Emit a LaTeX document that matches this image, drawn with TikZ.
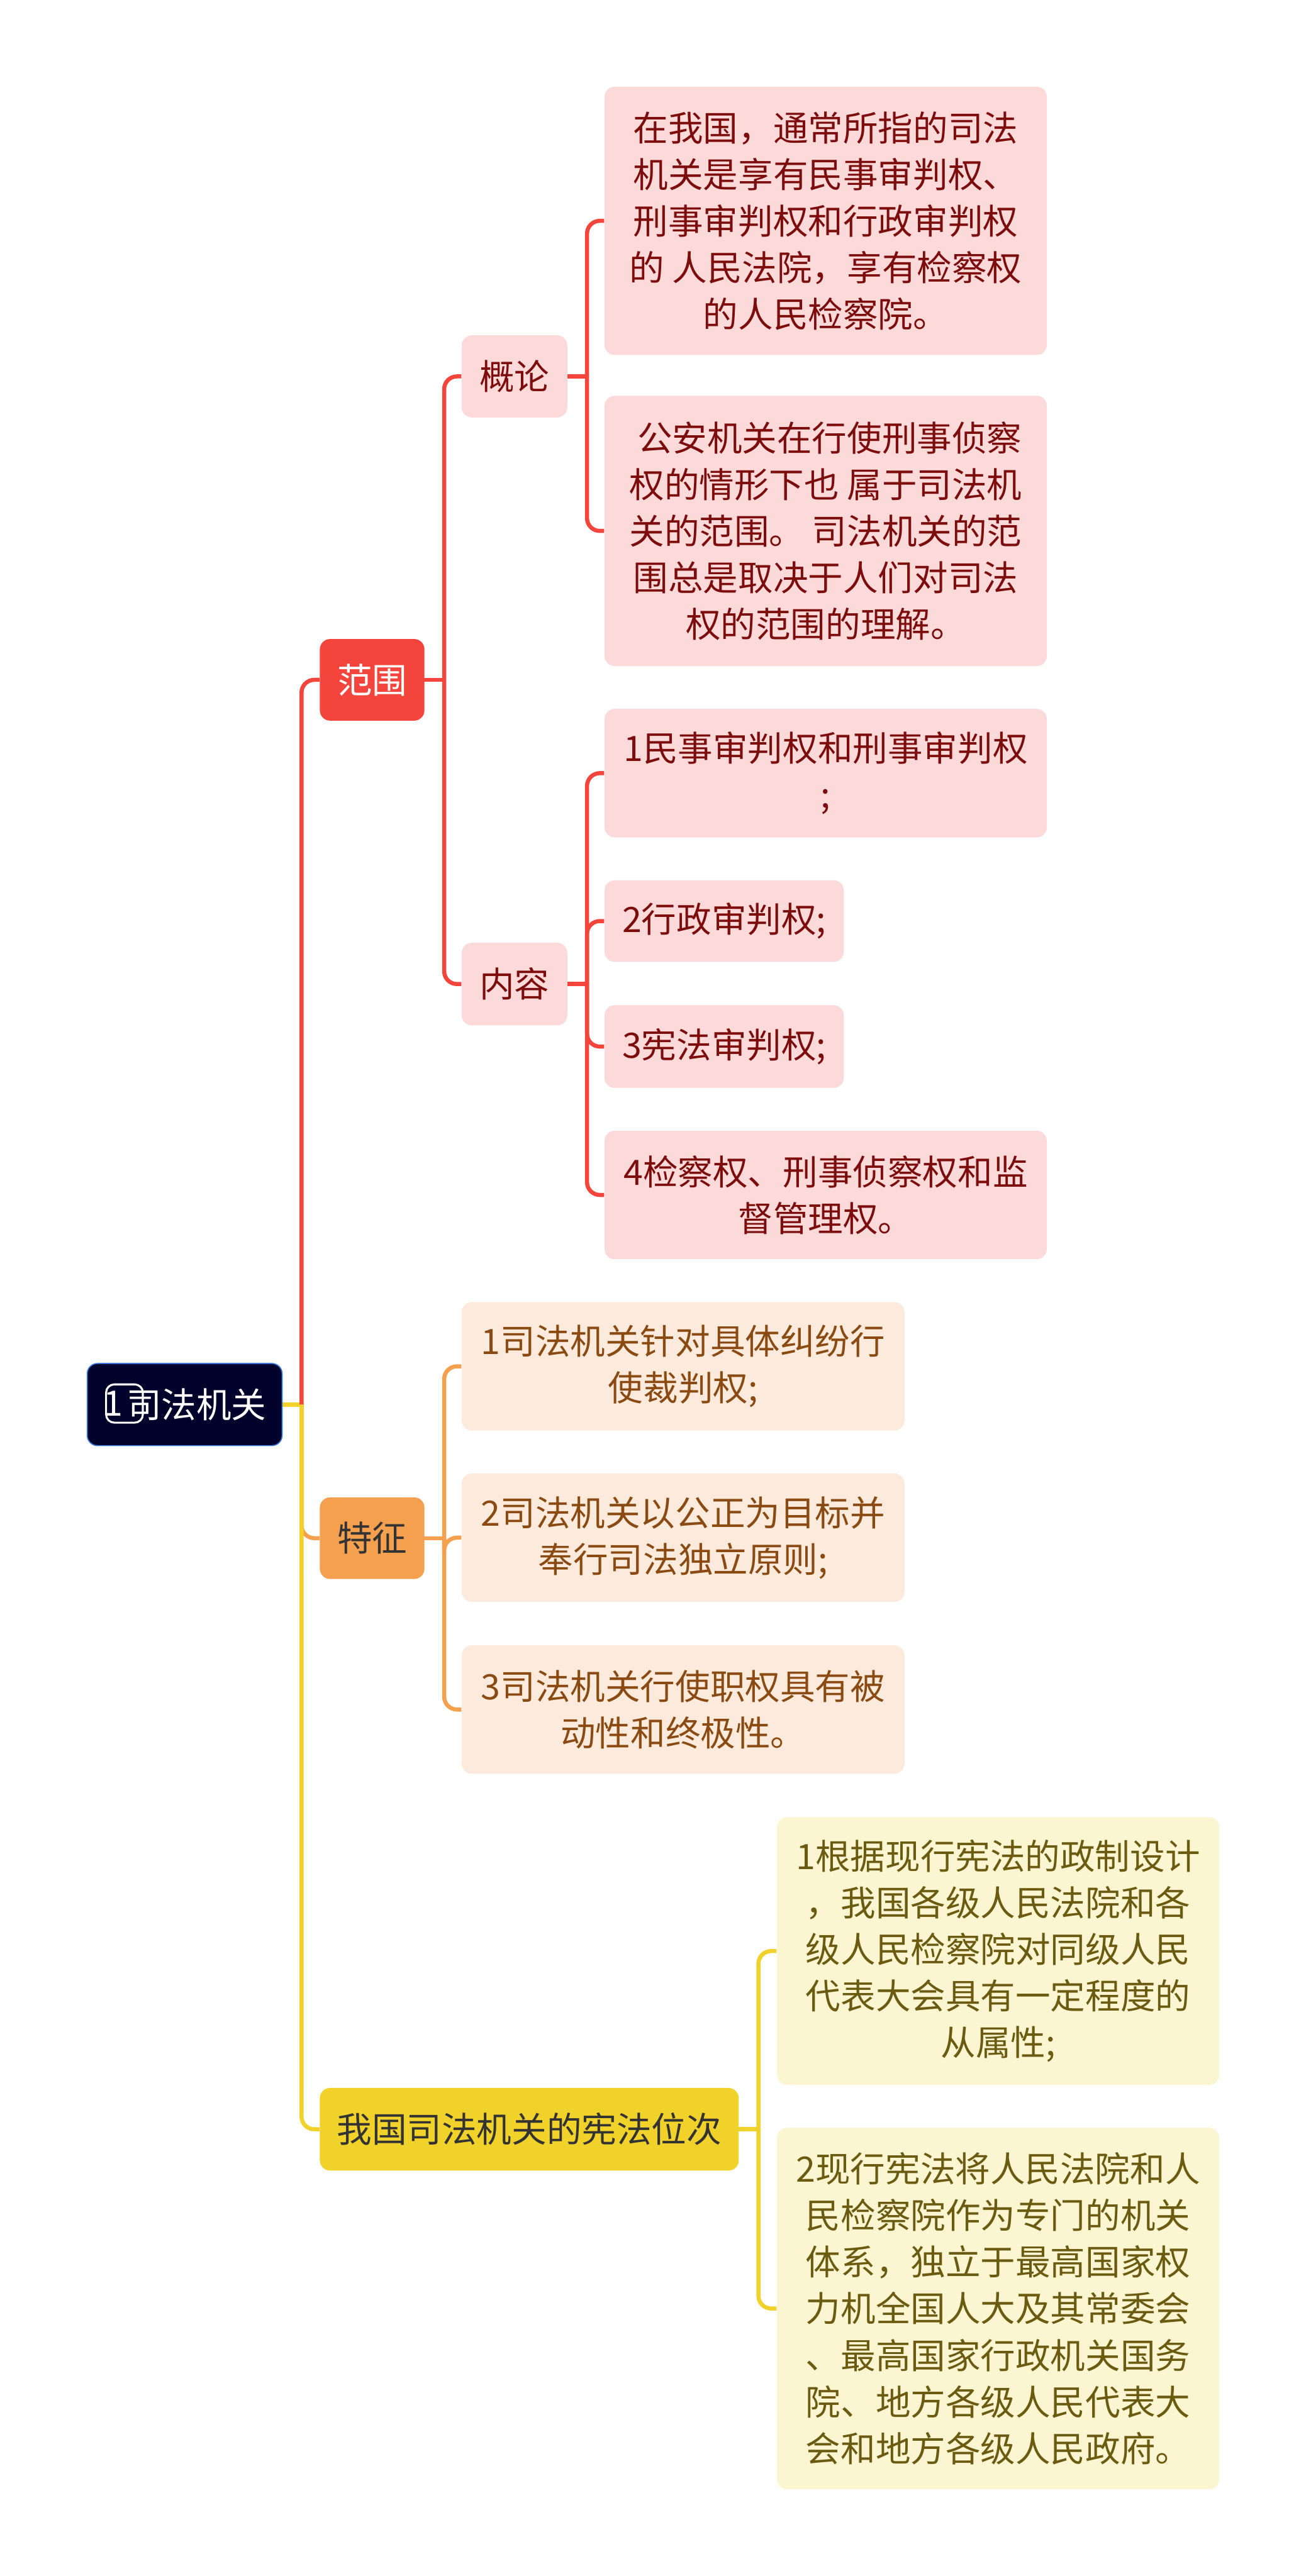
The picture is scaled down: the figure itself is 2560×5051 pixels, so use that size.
\documentclass[tikz,border=0pt]{standalone}
\usepackage{fontspec}
\setmainfont{Noto Sans CJK SC}
\usetikzlibrary{positioning, backgrounds}
\definecolor{Miroot}{HTML}{00022B}
\definecolor{Miedge}{HTML}{3A78D8}
\definecolor{Mired}{HTML}{F4453C}
\definecolor{Mipink}{HTML}{FDDADA}
\definecolor{Miredtxt}{HTML}{7D0C0C}
\definecolor{Miorange}{HTML}{F4A04F}
\definecolor{Mipeach}{HTML}{FCEBDC}
\definecolor{Mibrown}{HTML}{8A4A12}
\definecolor{Miyellow}{HTML}{F0D22A}
\definecolor{Micream}{HTML}{FBF5D2}
\definecolor{Miolive}{HTML}{6B5B10}
\definecolor{Midark}{HTML}{333333}
\newcommand{\mifont}{\fontsize{19.5pt}{26pt}\selectfont}

\begin{document}
\begin{tikzpicture}[x=0.1mm, y=-0.1mm,
  rootbox/.style={rectangle, rounded corners=2mm, fill=Miroot, draw=Miedge,
                  line width=0.6pt, inner sep=0pt, font=\mifont, text=white},
  icon/.style={rectangle, rounded corners=1.6mm, draw=white, line width=1.1pt,
               minimum width=7.2mm, minimum height=7.5mm, inner sep=0pt},
  topR/.style={rectangle, rounded corners=2mm, fill=Mired, inner sep=0pt,
               font=\mifont, text=white},
  topO/.style={rectangle, rounded corners=2mm, fill=Miorange, inner sep=0pt,
               font=\mifont, text=Midark},
  topY/.style={rectangle, rounded corners=2mm, fill=Miyellow, inner sep=0pt,
               font=\mifont, text=Midark},
  subR/.style={rectangle, rounded corners=2mm, fill=Mipink, inner sep=0pt,
               font=\mifont, text=Miredtxt},
  leafR/.style={rectangle, rounded corners=2mm, fill=Mipink, inner sep=0pt,
                align=center, font=\mifont, text=Miredtxt},
  leafO/.style={rectangle, rounded corners=2mm, fill=Mipeach, inner sep=0pt,
                align=center, font=\mifont, text=Mibrown},
  leafY/.style={rectangle, rounded corners=2mm, fill=Micream, inner sep=0pt,
                align=center, font=\mifont, text=Miolive},
  rline/.style={draw=Mired, line width=0.8mm},
  oline/.style={draw=Miorange, line width=0.8mm},
  yline/.style={draw=Miyellow, line width=0.8mm}
]
\useasboundingbox (0,0) rectangle (2560,5051);

%% ─── Raíz ──────────────────────────────────────────────────
\node[rootbox, minimum width=38.2mm, minimum height=16.1mm] (root) at (362,2754)
    {\hspace*{4.6mm}司法机关};
\node[icon]                                    (rico) at (244,2752) {};
\node[font=\mifont, text=white, inner sep=0pt] (rone) at (222,2752) {1};

%% ─── Rama 1: 范围 (rojo) ───────────────────────────────────
\node[topR, minimum width=20.5mm, minimum height=16mm]   (fw) at (729.5,1333) {范围};
\node[subR, minimum width=20.7mm, minimum height=16.1mm] (gl) at (1008.5,738) {概论};
\node[subR, minimum width=20.7mm, minimum height=16.2mm] (nr) at (1008.5,1929.5) {内容};
\node[leafR, minimum width=86.7mm, minimum height=52.6mm] (gl1) at (1618.5,433)
    {在我国，通常所指的司法\\机关是享有民事审判权、\\刑事审判权和行政审判权\\的 人民法院，享有检察权\\的人民检察院。};
\node[leafR, minimum width=86.7mm, minimum height=53mm]   (gl2) at (1618.5,1041)
    {~公安机关在行使刑事侦察\\权的情形下也 属于司法机\\关的范围。 司法机关的范\\围总是取决于人们对司法\\权的范围的理解。};
\node[leafR, minimum width=86.7mm, minimum height=25.2mm] (nr1) at (1618.5,1516)
    {1民事审判权和刑事审判权\\;};
\node[leafR, minimum width=46.9mm, minimum height=16mm]   (nr2) at (1419.5,1806) {2行政审判权;};
\node[leafR, minimum width=46.9mm, minimum height=16.2mm] (nr3) at (1419.5,2052) {3宪法审判权;};
\node[leafR, minimum width=86.7mm, minimum height=25.2mm] (nr4) at (1618.5,2343)
    {4检察权、刑事侦察权和监\\督管理权。};

%% ─── Rama 2: 特征 (naranja) ────────────────────────────────
\node[topO, minimum width=20.5mm, minimum height=16mm]   (tz) at (729.5,3016) {特征};
\node[leafO, minimum width=86.8mm, minimum height=25.2mm] (tz1) at (1339,2679)
    {1司法机关针对具体纠纷行\\使裁判权;};
\node[leafO, minimum width=86.8mm, minimum height=25.2mm] (tz2) at (1339,3015)
    {2司法机关以公正为目标并\\奉行司法独立原则;};
\node[leafO, minimum width=86.8mm, minimum height=25.2mm] (tz3) at (1339,3352)
    {3司法机关行使职权具有被\\动性和终极性。};

%% ─── Rama 3: 宪法位次 (amarillo) ───────────────────────────
\node[topY, minimum width=82.1mm, minimum height=16.2mm] (dw) at (1037.5,4175) {我国司法机关的宪法位次};
\node[leafY, minimum width=86.7mm, minimum height=52.5mm] (dw1) at (1956.5,3825.5)
    {1根据现行宪法的政制设计\\，我国各级人民法院和各\\级人民检察院对同级人民\\代表大会具有一定程度的\\从属性;};
\node[leafY, minimum width=86.7mm, minimum height=70.9mm] (dw2) at (1956.5,4526.5)
    {2现行宪法将人民法院和人\\民检察院作为专门的机关\\体系，独立于最高国家权\\力机全国人大及其常委会\\、最高国家行政机关国务\\院、地方各级人民代表大\\会和地方各级人民政府。};

%% ─── Conectores ────────────────────────────────────────────
\begin{pgfonlayer}{background}
  \fill[white] (0,0) rectangle (2560,5051);
  % raíz
  \draw[yline, line cap=rect] (root.east) -- ++(37,0) coordinate (rt);
  \draw[rline, rounded corners=2.5mm] (rt) |- (fw.west);
  \draw[oline, rounded corners=2.5mm] (rt) |- (tz.west);
  \draw[yline, rounded corners=2.5mm] (rt) |- (dw.west);
  % 范围
  \draw[rline, line cap=rect] (fw.east) -- ++(38,0) coordinate (fwt);
  \draw[rline, rounded corners=2.5mm] (fwt) |- (gl.west);
  \draw[rline, rounded corners=2.5mm] (fwt) |- (nr.west);
  \draw[rline, line cap=rect] (gl.east) -- ++(38,0) coordinate (glt);
  \foreach \k in {gl1, gl2}
    \draw[rline, rounded corners=2.5mm] (glt) |- (\k.west);
  \draw[rline, line cap=rect] (nr.east) -- ++(38,0) coordinate (nrt);
  \foreach \k in {nr1, nr2, nr3, nr4}
    \draw[rline, rounded corners=2.5mm] (nrt) |- (\k.west);
  % 特征
  \draw[oline, line cap=rect] (tz.east) -- ++(38,0) coordinate (tzt);
  \foreach \k in {tz1, tz2, tz3}
    \draw[oline, rounded corners=2.5mm] (tzt) |- (\k.west);
  % 宪法位次
  \draw[yline, line cap=rect] (dw.east) -- ++(38,0) coordinate (dwt);
  \foreach \k in {dw1, dw2}
    \draw[yline, rounded corners=2.5mm] (dwt) |- (\k.west);
\end{pgfonlayer}

\end{tikzpicture}
\end{document}
